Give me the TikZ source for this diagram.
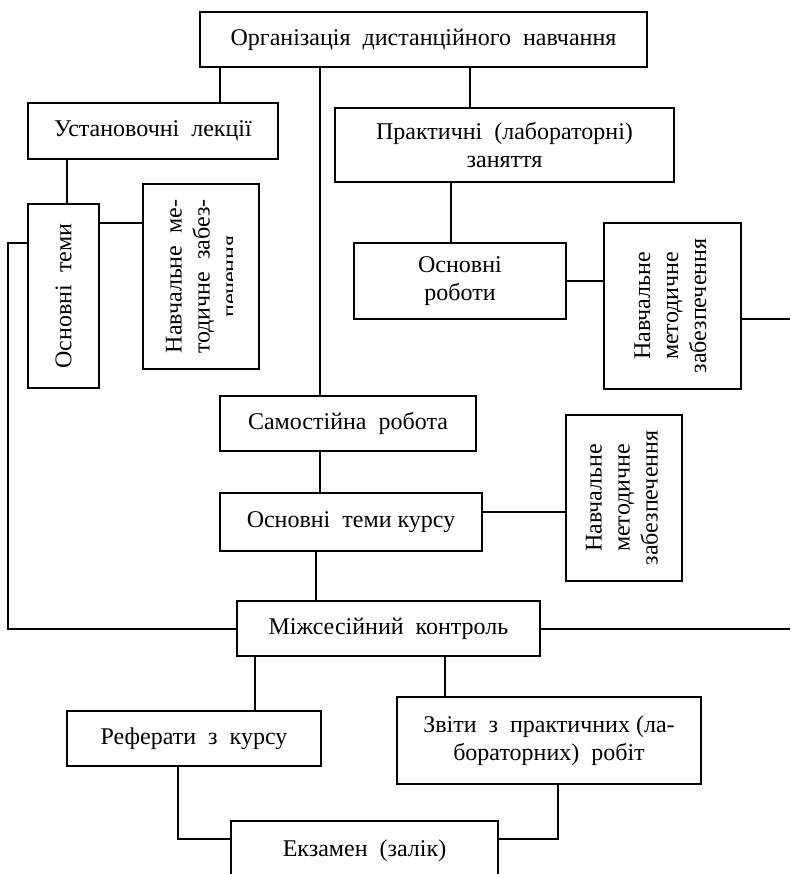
\documentclass[tikz,border=0pt]{standalone}
\usepackage{fontspec}
\setmainfont{Liberation Serif}
\usetikzlibrary{calc}

\newcommand{\povern}[1]{\rotatebox{90}{\begin{tabular}{@{}c@{}}#1\end{tabular}}}

\begin{document}
\begin{tikzpicture}[x=1pt, y=-1pt,
    blok/.style={draw, line width=2pt, inner sep=0pt, align=center,
      font=\fontsize{24}{28}\selectfont},
    tekst/.style={inner sep=0pt, font=\fontsize{24}{28}\selectfont},
    zv/.style={line width=2pt}]

      \clip (0,0) rectangle (790,874);

      \coordinate (livyi) at (8,0);
      \coordinate (kraj) at (790,0);

      \node[blok, minimum width=447, minimum height=55] (org)    at (423.5,39.5) {Організація~~дистанційного~~навчання};
      \node[blok, minimum width=250, minimum height=56] (ust)    at (153,131)    {Установочні~~лекції};
      \node[blok, minimum width=339, minimum height=74] (prak)   at (504.5,145)  {Практичні~~(лабораторні)\\заняття};
      \node[blok, minimum width=212, minimum height=76] (osnrob) at (460,281)    {Основні\\роботи};
      \node[blok, minimum width=137, minimum height=166] (nmz1)  at (672.5,306)  {\povern{Навчальне\\методичне\\забезпечення}};
      \node[blok, minimum width=71, minimum height=184] (osnt)   at (63.5,296)   {\rotatebox{90}{Основні~~теми}};
      \node[blok, minimum width=116, minimum height=185] (nmz0)  at (201,276.5)  {};
      \node[blok, minimum width=256, minimum height=55] (sam)    at (348,423.5)  {Самостійна~~робота};
      \node[blok, minimum width=262, minimum height=58] (osntk)  at (351,522)    {Основні~~теми курсу};
      \node[blok, minimum width=116, minimum height=166] (nmz2)  at (624,498)    {\povern{Навчальне\\методичне\\забезпечення}};
      \node[blok, minimum width=303, minimum height=55] (mizh)   at (388.5,628.5) {Міжсесійний~~контроль};
      \node[blok, minimum width=254, minimum height=55] (ref)    at (194,738.5)  {Реферати~~з~~курсу};
      \node[blok, minimum width=304, minimum height=87] (zvit)   at (549,740.5)  {Звіти~~з~~практичних (ла-\\бораторних)~~робіт};
      \node[blok, minimum width=267, minimum height=60] (ekz)    at (364.5,851)  {Екзамен~~(залік)};

      \begin{scope}
        \clip (nmz0.north west) rectangle ([xshift=31]nmz0.south);
        \node[tekst] (nmz0t) at ([xshift=3]nmz0.center) {\povern{Навчальне~~ме-\\тодичне~~забез-\\печення}};
      \end{scope}

      \draw[zv] ([xshift=67]ust.north) -- ([xshift=67]ust.north |- org.south);
      \draw[zv] ([xshift=-28]sam.north) -- ([xshift=-28]sam.north |- org.south);
      \draw[zv] ([xshift=-34.5]prak.north) -- ([xshift=-34.5]prak.north |- org.south);
      \draw[zv] ([xshift=-9]osnrob.north) -- ([xshift=-9]osnrob.north |- prak.south);
      \draw[zv] (osnrob.east) -- (osnrob.east -| nmz1.west);
      \draw[zv] ([yshift=-13]nmz1.east) -- ([yshift=-13]nmz1.east -| kraj);

      \draw[zv] ([xshift=3.5]osnt.north) -- ([xshift=3.5]osnt.north |- ust.south);
      \draw[zv] ([yshift=73]osnt.east) -- ([yshift=73]osnt.east -| nmz0.west);
      \draw[zv] ([yshift=53]osnt.west) -| (livyi |- mizh.west) -- (mizh.west);

      \draw[zv] ([xshift=-28]sam.south) -- ([xshift=-28]sam.south |- osntk.north);
      \draw[zv] ([xshift=-35]osntk.south) -- ([xshift=-35]osntk.south |- mizh.north);
      \draw[zv] ([yshift=10]osntk.east) -- ([yshift=10]osntk.east -| nmz2.west);
      \draw[zv] (mizh.east) -- (mizh.east -| kraj);

      \draw[zv] ([xshift=61]ref.north) -- ([xshift=61]ref.north |- mizh.south);
      \draw[zv] ([xshift=-104]zvit.north) -- ([xshift=-104]zvit.north |- mizh.south);
      \draw[zv] ([xshift=-16]ref.south) |- ([yshift=12]ekz.west);
      \draw[zv] ([xshift=9]zvit.south) |- ([yshift=12]ekz.east);

    \end{tikzpicture}
\end{document}
